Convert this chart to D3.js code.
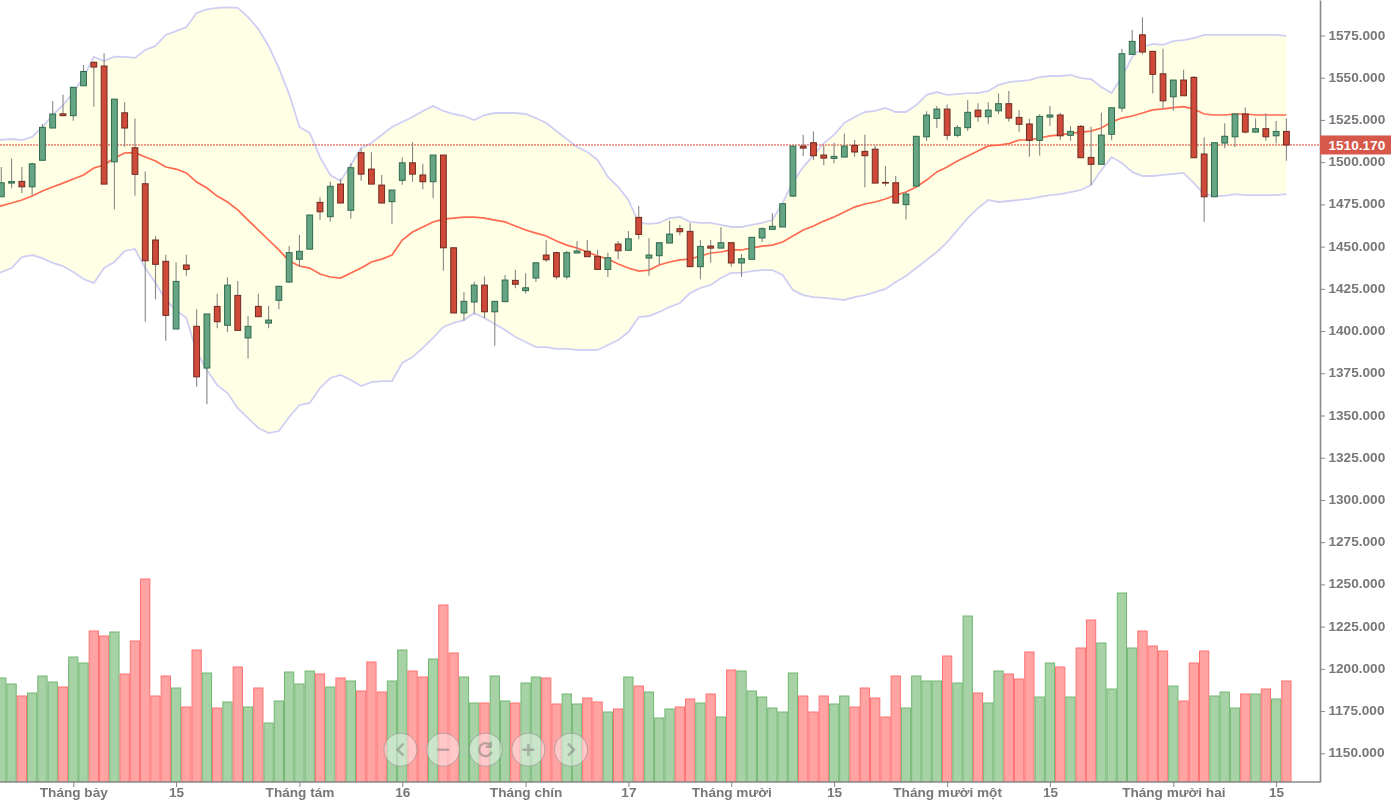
<!DOCTYPE html>
<html>
<head>
<meta charset="utf-8">
<script src="https://cdn.jsdelivr.net/npm/d3@7"></script>
<style>
  html, body { margin: 0; padding: 0; background: #fff; overflow: hidden; }
  svg { display: block; filter: blur(0.5px); }
  text { font-family: "Liberation Sans", Arial, sans-serif; }
</style>
</head>
<body>
<div id="root"></div>
<script>
// one entry per trading day
const open = [
  1479.5, 1487.6, 1488.6, 1485.4, 1501.1, 1520.2, 1528.6, 1527.5, 1545.2, 1559.1,
  1556.9, 1500.2, 1529.2, 1508.5, 1487.2, 1453.9, 1441.3, 1401.2, 1439.1, 1402.8,
  1378.1, 1414.6, 1403.4, 1421.1, 1395.9, 1414.6, 1404.7, 1418.2, 1429.0, 1442.5,
  1448.5, 1476.2, 1467.7, 1487.0, 1471.5, 1505.6, 1495.9, 1486.4, 1476.6, 1489.2,
  1499.6, 1492.4, 1488.4, 1504.2, 1449.3, 1410.7, 1417.2, 1427.2, 1411.4, 1417.4,
  1430.0, 1423.9, 1431.4, 1445.0, 1446.4, 1432.1, 1446.2, 1447.2, 1444.2, 1436.5,
  1451.5, 1447.8, 1467.3, 1443.2, 1444.6, 1452.1, 1460.6, 1459.0, 1438.1, 1450.3,
  1449.1, 1452.3, 1440.3, 1442.5, 1455.1, 1460.2, 1461.6, 1479.9, 1509.5, 1511.5,
  1504.2, 1502.2, 1503.0, 1509.9, 1506.4, 1507.7, 1488.0, 1487.8, 1474.8, 1485.8,
  1515.0, 1525.9, 1531.4, 1515.9, 1520.4, 1530.8, 1526.9, 1530.4, 1534.6, 1526.5,
  1522.6, 1512.9, 1526.7, 1527.9, 1515.9, 1521.2, 1502.8, 1498.7, 1516.5, 1532.0,
  1563.8, 1575.4, 1565.6, 1552.3, 1538.7, 1548.6, 1550.2, 1504.8, 1479.5, 1511.3,
  1515.0, 1528.5, 1517.8, 1519.8, 1515.6, 1518.2
]
const high = [
  1497.1, 1502.2, 1497.1, 1499.6, 1522.6, 1536.2, 1539.9, 1544.3, 1557.5, 1559.8,
  1564.4, 1537.3, 1535.4, 1525.9, 1494.5, 1456.2, 1445.2, 1440.7, 1445.2, 1412.9,
  1410.1, 1422.1, 1431.8, 1429.6, 1408.9, 1422.1, 1414.8, 1426.5, 1450.3, 1456.8,
  1468.7, 1479.2, 1488.4, 1490.2, 1499.3, 1508.2, 1505.8, 1492.4, 1483.5, 1502.8,
  1511.7, 1499.0, 1504.2, 1504.2, 1449.3, 1422.9, 1429.2, 1432.4, 1417.6, 1433.2,
  1436.3, 1434.2, 1440.4, 1453.9, 1447.0, 1447.6, 1453.3, 1453.9, 1448.0, 1446.4,
  1453.3, 1459.2, 1474.0, 1454.9, 1452.3, 1465.3, 1462.8, 1463.8, 1453.9, 1453.9,
  1461.4, 1452.3, 1445.6, 1455.5, 1461.4, 1469.7, 1475.4, 1509.5, 1516.2, 1518.2,
  1509.9, 1511.5, 1517.0, 1513.1, 1516.2, 1509.7, 1497.7, 1491.8, 1482.5, 1515.3,
  1530.2, 1533.2, 1534.2, 1522.0, 1536.8, 1534.8, 1535.4, 1540.7, 1542.1, 1530.8,
  1525.7, 1528.3, 1533.2, 1529.2, 1521.4, 1522.0, 1521.0, 1529.2, 1532.2, 1567.1,
  1578.2, 1585.7, 1566.0, 1567.1, 1548.6, 1554.7, 1551.0, 1514.7, 1511.5, 1523.0,
  1528.5, 1532.4, 1525.9, 1528.9, 1524.3, 1525.9
]
const low = [
  1479.3, 1484.5, 1481.7, 1480.1, 1501.1, 1520.2, 1527.5, 1524.5, 1545.2, 1532.8,
  1487.0, 1472.0, 1509.1, 1480.1, 1405.5, 1418.8, 1394.3, 1401.2, 1432.7, 1367.0,
  1356.6, 1401.6, 1399.4, 1400.4, 1383.8, 1408.5, 1401.6, 1412.9, 1428.4, 1438.1,
  1448.5, 1465.7, 1464.7, 1475.8, 1466.7, 1489.0, 1487.0, 1475.8, 1463.2, 1486.6,
  1488.4, 1483.9, 1478.6, 1435.7, 1410.7, 1406.1, 1410.5, 1407.5, 1391.3, 1417.4,
  1425.3, 1422.3, 1429.0, 1441.0, 1430.6, 1430.6, 1446.2, 1444.0, 1436.5, 1432.0,
  1442.5, 1447.8, 1454.3, 1432.7, 1439.1, 1452.1, 1456.7, 1438.1, 1430.6, 1440.4,
  1449.1, 1438.1, 1432.1, 1442.5, 1452.7, 1460.2, 1461.6, 1479.4, 1503.6, 1501.2,
  1498.1, 1499.3, 1503.0, 1503.2, 1485.1, 1487.6, 1485.8, 1475.8, 1466.1, 1485.8,
  1512.5, 1520.2, 1513.0, 1514.7, 1518.4, 1523.9, 1522.4, 1528.3, 1523.9, 1518.0,
  1503.2, 1504.0, 1521.5, 1513.1, 1512.7, 1502.6, 1486.3, 1498.7, 1512.9, 1529.8,
  1563.8, 1563.8, 1540.7, 1531.4, 1530.4, 1539.3, 1502.6, 1464.7, 1479.5, 1508.2,
  1508.9, 1517.0, 1517.4, 1512.7, 1511.1, 1500.8
]
const close = [
  1487.8, 1488.5, 1485.4, 1499.0, 1520.6, 1528.5, 1527.5, 1544.3, 1553.7, 1556.3,
  1487.0, 1537.3, 1520.2, 1492.8, 1441.6, 1439.5, 1409.3, 1429.4, 1436.5, 1372.9,
  1410.1, 1405.5, 1427.2, 1400.4, 1402.8, 1408.5, 1406.5, 1426.5, 1446.4, 1447.2,
  1468.7, 1470.6, 1485.7, 1475.8, 1496.7, 1492.9, 1487.0, 1475.8, 1483.5, 1499.6,
  1492.9, 1488.4, 1504.2, 1449.3, 1410.7, 1417.6, 1427.2, 1411.4, 1417.6, 1430.2,
  1427.7, 1425.6, 1440.4, 1442.2, 1432.1, 1446.4, 1447.4, 1444.0, 1436.5, 1443.4,
  1447.5, 1454.6, 1457.2, 1445.0, 1452.3, 1457.4, 1458.8, 1438.1, 1450.1, 1449.1,
  1452.3, 1440.3, 1442.8, 1455.5, 1460.6, 1462.0, 1475.4, 1509.5, 1508.3, 1503.8,
  1502.4, 1503.4, 1509.5, 1506.0, 1503.8, 1487.6, 1487.6, 1475.8, 1481.1, 1515.3,
  1527.9, 1531.4, 1515.9, 1520.4, 1529.5, 1526.9, 1530.8, 1534.6, 1526.1, 1522.4,
  1512.9, 1527.1, 1527.9, 1515.6, 1518.2, 1502.6, 1498.7, 1516.0, 1532.2, 1564.2,
  1571.5, 1565.2, 1552.0, 1536.3, 1548.6, 1539.3, 1502.6, 1479.5, 1511.5, 1515.3,
  1528.5, 1517.8, 1519.8, 1515.0, 1518.2, 1510.17
]
const volume = [
  104, 98, 86, 89, 106, 100, 95, 125, 119, 151,
  146, 150, 108, 141, 203, 86, 106, 94, 75, 132,
  109, 74, 80, 115, 75, 94, 59, 81, 110, 98,
  111, 108, 95, 104, 101, 91, 120, 90, 101, 132,
  111, 105, 123, 177, 129, 105, 79, 79, 106, 81,
  79, 99, 105, 104, 78, 88, 78, 84, 80, 70,
  73, 105, 96, 90, 64, 73, 75, 83, 79, 88,
  65, 112, 111, 91, 85, 74, 70, 109, 86, 70,
  86, 78, 86, 75, 94, 84, 65, 106, 74, 106,
  101, 101, 126, 99, 166, 89, 79, 111, 108, 103,
  130, 85, 119, 115, 85, 134, 162, 139, 93, 189,
  134, 151, 136, 131, 96, 81, 119, 131, 86, 90,
  74, 88, 88, 93, 83, 101
]
const bandUpper = [
  1513.1, 1513.7, 1513.1, 1514.9, 1520.8, 1527.9, 1533.8, 1540.9, 1550.4, 1562.3,
  1559.9, 1562.4, 1562.3, 1561.7, 1566.4, 1568.8, 1575.3, 1577.6, 1580.0, 1588.3,
  1590.4, 1591.3, 1591.6, 1591.3, 1585.9, 1578.8, 1568.8, 1555.7, 1540.3, 1520.8,
  1517.3, 1503.0, 1492.4, 1488.8, 1498.3, 1508.4, 1511.3, 1516.1, 1520.8, 1523.8,
  1526.7, 1530.3, 1533.2, 1530.3, 1528.5, 1527.3, 1524.9, 1527.9, 1529.1, 1529.1,
  1529.1, 1528.5, 1526.1, 1523.2, 1518.4, 1513.7, 1509.0, 1506.0, 1501.3, 1491.2,
  1485.3, 1477.6, 1464.0, 1463.4, 1464.0, 1466.9, 1467.5, 1464.6, 1464.0, 1464.0,
  1462.8, 1461.6, 1461.6, 1462.8, 1464.0, 1465.7, 1475.8, 1488.2, 1497.1, 1504.2,
  1511.3, 1516.1, 1523.2, 1526.7, 1529.7, 1530.3, 1532.1, 1529.7, 1529.7, 1533.8,
  1539.8, 1541.5, 1539.8, 1540.3, 1540.9, 1540.9, 1542.1, 1545.7, 1547.4, 1548.0,
  1548.6, 1550.4, 1551.0, 1551.0, 1551.6, 1549.8, 1549.2, 1544.5, 1540.9, 1550.4,
  1562.3, 1568.2, 1570.0, 1569.4, 1571.7, 1572.3, 1573.5, 1575.3, 1575.3, 1575.3,
  1575.3, 1575.3, 1575.3, 1575.3, 1575.3, 1574.7
]
const bandMiddle = [
  1474.0, 1475.8, 1477.6, 1479.9, 1482.9, 1485.3, 1487.6, 1490.0, 1492.4, 1496.5,
  1498.3, 1502.4, 1505.4, 1505.6, 1503.0, 1500.7, 1497.1, 1495.9, 1493.6, 1488.2,
  1484.7, 1479.9, 1476.4, 1471.7, 1465.7, 1459.8, 1453.9, 1448.0, 1441.5, 1438.5,
  1437.3, 1433.8, 1432.0, 1431.4, 1434.4, 1437.3, 1440.9, 1442.6, 1445.0, 1453.9,
  1458.6, 1461.6, 1464.6, 1466.3, 1466.9, 1467.5, 1467.5, 1466.9, 1465.7, 1464.6,
  1462.2, 1459.8, 1458.0, 1456.3, 1453.3, 1450.9, 1449.2, 1446.8, 1444.4, 1442.6,
  1439.7, 1437.3, 1435.5, 1436.1, 1439.1, 1440.9, 1442.1, 1442.6, 1444.4, 1446.2,
  1446.8, 1448.0, 1448.0, 1449.2, 1450.3, 1450.9, 1452.7, 1456.3, 1459.8, 1462.2,
  1465.1, 1467.5, 1470.5, 1473.4, 1475.2, 1476.4, 1478.2, 1480.5, 1482.3, 1485.3,
  1489.4, 1494.2, 1497.1, 1500.7, 1503.6, 1506.6, 1509.6, 1510.1, 1511.0, 1513.1,
  1513.1, 1514.3, 1515.5, 1516.1, 1517.0, 1517.8, 1518.4, 1520.2, 1523.8, 1526.1,
  1527.3, 1529.1, 1530.9, 1531.5, 1532.3, 1532.9, 1531.5, 1528.5, 1527.9, 1527.9,
  1528.5, 1528.5, 1527.9, 1527.9, 1527.9, 1527.9
]
const bandLower = [
  1434.5, 1437.3, 1443.8, 1445.0, 1443.2, 1440.3, 1438.5, 1435.0, 1430.8, 1428.4,
  1437.3, 1440.9, 1447.4, 1448.6, 1437.3, 1428.4, 1418.4, 1412.4, 1407.7, 1387.6,
  1376.9, 1368.0, 1363.3, 1354.4, 1348.5, 1342.6, 1339.6, 1340.8, 1349.1, 1356.2,
  1357.4, 1366.3, 1372.2, 1374.0, 1371.0, 1367.4, 1369.8, 1370.4, 1370.4, 1381.1,
  1384.6, 1390.0, 1395.9, 1402.4, 1404.8, 1406.5, 1410.7, 1407.7, 1404.2, 1400.6,
  1396.5, 1393.5, 1390.5, 1390.5, 1389.4, 1389.4, 1388.8, 1388.8, 1388.8, 1391.7,
  1394.7, 1399.4, 1408.3, 1408.9, 1411.3, 1414.2, 1416.6, 1422.5, 1425.5, 1427.3,
  1431.4, 1434.4, 1434.4, 1435.5, 1436.1, 1436.1, 1433.2, 1424.3, 1421.3, 1420.1,
  1419.6, 1419.0, 1418.4, 1420.1, 1421.3, 1423.1, 1424.9, 1429.0, 1432.6, 1437.3,
  1442.1, 1446.8, 1452.7, 1459.8, 1466.9, 1472.8, 1477.6, 1476.4, 1477.0, 1477.6,
  1478.2, 1479.4, 1480.5, 1481.1, 1482.3, 1483.5, 1486.5, 1495.3, 1503.0, 1499.5,
  1494.2, 1491.8, 1491.8, 1492.4, 1493.0, 1493.6, 1487.6, 1481.1, 1480.0, 1480.0,
  1481.1, 1480.5, 1480.5, 1480.5, 1480.5, 1481.1
]
const priceTicks = [1150, 1175, 1200, 1225, 1250, 1275, 1300, 1325, 1350, 1375, 1400, 1425, 1450, 1475, 1500, 1525, 1550, 1575]
const timeTicks = [7, 17, 29, 39, 51, 61, 71, 81, 92, 102, 114, 124]
const timeLabels = ['Tháng bảy', '15', 'Tháng tám', '16', 'Tháng chín', '17', 'Tháng mười', '15', 'Tháng mười một', '15', 'Tháng mười hai', '15']
const lastPrice = 1510.17
const controls = ['left', 'minus', 'reset', 'plus', 'right']

const width = 1391
const height = 805
const plotRight = 1320
const plotBottom = 782

const days = d3.range(open.length)
const x = d3.scaleLinear().domain([0, days.length - 1]).range([1.3, 1286.4])
const y = d3.scaleLinear().domain([1133, 1596]).range([plotBottom, 0])
const yVolume = d3.scaleLinear().domain([0, 250]).range([plotBottom, plotBottom - 250])
const step = x(1) - x(0)

// the band runs on past the left edge of the window
const bandX = (d) => (d === 0 ? 0 : x(d))

const svg = d3.select('#root').append('svg').attr('width', width).attr('height', height)
svg.append('clipPath').attr('id', 'plot').append('rect').attr('width', plotRight).attr('height', plotBottom)
const plot = svg.append('g').attr('clip-path', 'url(#plot)')

// bollinger band
const area = d3.area().x(bandX).y0((d) => y(bandLower[d])).y1((d) => y(bandUpper[d]))
plot.append('path').attr('d', area(days)).attr('fill', '#ffffe6')

const lineOf = (values) => d3.line().x(bandX).y((d) => y(values[d]))(days)
plot.selectAll('path.edge')
  .data([bandUpper, bandLower])
  .join('path')
  .attr('class', 'edge')
  .attr('d', lineOf)
  .attr('fill', 'none')
  .attr('stroke', '#cfcff4')
  .attr('stroke-width', 1.8)

// volume
plot.append('g')
  .selectAll('rect')
  .data(days)
  .join('rect')
  .attr('x', (d) => x(d) - step / 2 + 0.5)
  .attr('width', step - 1)
  .attr('y', (d) => yVolume(volume[d]))
  .attr('height', (d) => plotBottom - yVolume(volume[d]))
  .attr('fill', (d) => (close[d] < open[d] ? '#ffa3a3' : '#a6d2a6'))
  .attr('stroke', (d) => (close[d] < open[d] ? '#ff7373' : '#72b872'))
  .attr('stroke-width', 1)

// last price
plot.append('line')
  .attr('x1', 0)
  .attr('x2', plotRight)
  .attr('y1', y(lastPrice))
  .attr('y2', y(lastPrice))
  .attr('stroke', '#e03c30')
  .attr('stroke-dasharray', '2,1')

plot.append('path')
  .attr('d', lineOf(bandMiddle))
  .attr('fill', 'none')
  .attr('stroke', '#ff6a50')
  .attr('stroke-width', 1.7)

// candles
const candle = plot.append('g').selectAll('g').data(days).join('g')
candle.append('line')
  .attr('x1', (d) => x(d))
  .attr('x2', (d) => x(d))
  .attr('y1', (d) => y(high[d]))
  .attr('y2', (d) => y(low[d]))
  .attr('stroke', '#868686')
  .attr('stroke-width', 1.1)
candle.append('rect')
  .attr('x', (d) => x(d) - 2.9)
  .attr('width', 5.8)
  .attr('y', (d) => y(Math.max(open[d], close[d])))
  .attr('height', (d) => Math.abs(y(open[d]) - y(close[d])))
  .attr('fill', (d) => (close[d] < open[d] ? '#cf4a38' : '#66a583'))
  .attr('stroke', (d) => (close[d] < open[d] ? '#6f2a20' : '#2f6a4e'))
  .attr('stroke-width', 1)

// axes
const yAxis = svg.append('g')
  .attr('transform', `translate(${plotRight},0)`)
  .call(d3.axisRight(y).tickValues(priceTicks).tickFormat(d3.format('.3f')).tickSize(5).tickSizeOuter(0))
const xAxis = svg.append('g')
  .attr('transform', `translate(0,${plotBottom})`)
  .call(d3.axisBottom(x)
    .tickValues(timeTicks)
    .tickFormat((d, i) => timeLabels[i])
    .tickSize(5)
    .tickSizeOuter(0))
xAxis.select('.domain').attr('d', `M0,0H${plotRight}`)

svg.selectAll('.domain').attr('stroke', '#888').attr('stroke-width', 1.6)
svg.selectAll('.tick line').attr('stroke', '#888')
svg.selectAll('.tick text')
  .attr('font-size', 13.6)
  .attr('font-weight', 'bold')
  .attr('font-family', '"Liberation Sans", Arial, sans-serif')
  .attr('fill', '#777')
yAxis.selectAll('.tick text').attr('x', 8.5).attr('dy', '0.26em')
xAxis.selectAll('.tick text').attr('y', 5).attr('dy', '0.71em')

// last price tag
svg.append('rect')
  .attr('x', plotRight)
  .attr('y', y(lastPrice) - 9.5)
  .attr('width', width - plotRight)
  .attr('height', 19)
  .attr('fill', '#d6584a')
svg.append('text')
  .attr('x', plotRight + 8.5)
  .attr('y', y(lastPrice))
  .attr('dy', '0.34em')
  .attr('font-size', 13.6)
  .attr('font-weight', 'bold')
  .attr('fill', '#fff')
  .text(d3.format('.3f')(lastPrice))

// navigation buttons over the volume bars
const icons = {
  left: 'M3,-6L-3,0L3,6',
  minus: 'M-6,0H6',
  reset: 'M5,-4A6.5,6.5 0 1,0 6,2M5,-8V-3H0',
  plus: 'M-6,0H6M0,-6V6',
  right: 'M-3,-6L3,0L-3,6',
}
const controlX = d3.scalePoint().domain(controls).range([400.5, 571])
const control = svg.append('g')
  .selectAll('g')
  .data(controls)
  .join('g')
  .attr('transform', (d) => `translate(${controlX(d)},749.7)`)
control.append('circle')
  .attr('r', 16.5)
  .attr('fill', '#fff')
  .attr('fill-opacity', 0.42)
  .attr('stroke', '#888')
  .attr('stroke-opacity', 0.55)
control.append('path')
  .attr('d', (d) => icons[d])
  .attr('fill', 'none')
  .attr('stroke', '#777')
  .attr('stroke-opacity', 0.5)
  .attr('stroke-width', 2.4)
</script>
</body>
</html>
